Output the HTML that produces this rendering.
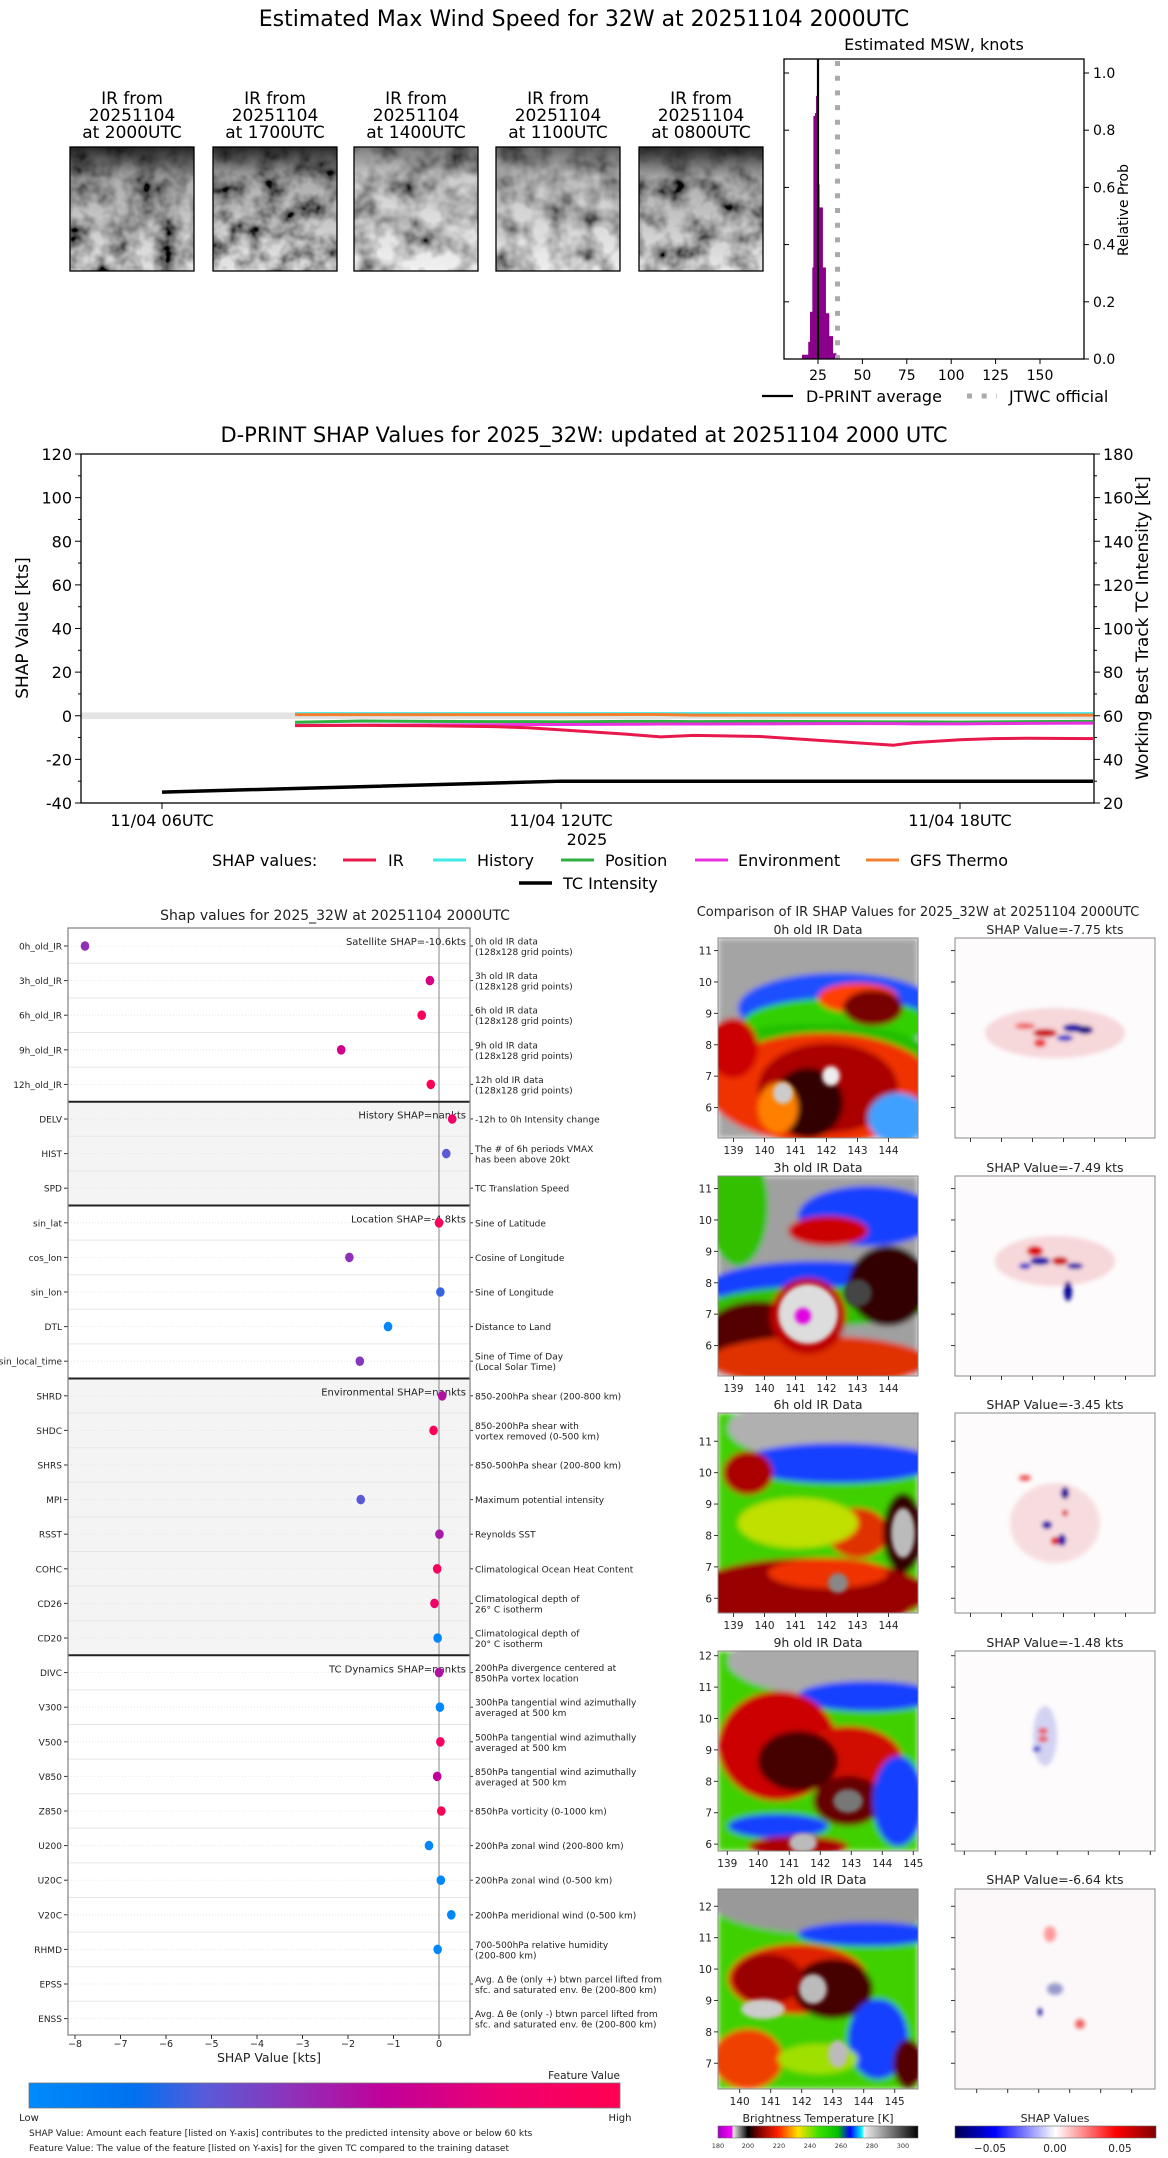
<!DOCTYPE html>
<html><head><meta charset="utf-8">
<style>
html,body{margin:0;padding:0;background:#fff;}
svg{display:block;font-family:"DejaVu Sans","Liberation Sans",sans-serif;}
</style></head>
<body>
<svg id="root" width="1168" height="2158" viewBox="0 0 1168 2158" xmlns="http://www.w3.org/2000/svg">
<defs>
  <filter id="cloud1" x="0" y="0" width="100%" height="100%"><feTurbulence type="fractalNoise" baseFrequency="0.045" numOctaves="3" seed="3"/><feColorMatrix type="matrix" values="2.0 0 0 0 -0.45  2.0 0 0 0 -0.45  2.0 0 0 0 -0.45  0 0 0 0 1"/></filter>
  <filter id="cloud2" x="0" y="0" width="100%" height="100%"><feTurbulence type="fractalNoise" baseFrequency="0.05" numOctaves="3" seed="11"/><feColorMatrix type="matrix" values="2.0 0 0 0 -0.42  2.0 0 0 0 -0.42  2.0 0 0 0 -0.42  0 0 0 0 1"/></filter>
  <filter id="cloud3" x="0" y="0" width="100%" height="100%"><feTurbulence type="fractalNoise" baseFrequency="0.04" numOctaves="3" seed="27"/><feColorMatrix type="matrix" values="1.9 0 0 0 -0.3  1.9 0 0 0 -0.3  1.9 0 0 0 -0.3  0 0 0 0 1"/></filter>
  <filter id="cloud4" x="0" y="0" width="100%" height="100%"><feTurbulence type="fractalNoise" baseFrequency="0.04" numOctaves="3" seed="41"/><feColorMatrix type="matrix" values="1.9 0 0 0 -0.28  1.9 0 0 0 -0.28  1.9 0 0 0 -0.28  0 0 0 0 1"/></filter>
  <filter id="cloud5" x="0" y="0" width="100%" height="100%"><feTurbulence type="fractalNoise" baseFrequency="0.045" numOctaves="3" seed="57"/><feColorMatrix type="matrix" values="2.0 0 0 0 -0.35  2.0 0 0 0 -0.35  2.0 0 0 0 -0.35  0 0 0 0 1"/></filter>
  <filter id="blur" x="-10%" y="-10%" width="120%" height="120%"><feGaussianBlur stdDeviation="3"/></filter>
  <filter id="blur2" x="-20%" y="-20%" width="140%" height="140%"><feGaussianBlur stdDeviation="2"/></filter>
  <linearGradient id="topdark" x1="0" y1="0" x2="0" y2="1"><stop offset="0" stop-color="#111" stop-opacity="0.9"/><stop offset="0.25" stop-color="#111" stop-opacity="0.35"/><stop offset="1" stop-color="#111" stop-opacity="0.1"/></linearGradient>
  <linearGradient id="featcb" x1="0" y1="0" x2="1" y2="0"><stop offset="0" stop-color="#008bfb"/><stop offset="0.18" stop-color="#0070f0"/><stop offset="0.3" stop-color="#5a5ad8"/><stop offset="0.45" stop-color="#9030b8"/><stop offset="0.6" stop-color="#c0009a"/><stop offset="0.8" stop-color="#ee0070"/><stop offset="1" stop-color="#ff0052"/></linearGradient>
  <linearGradient id="btcb" x1="0" y1="0" x2="1" y2="0"><stop offset="0" stop-color="#a000c0"/><stop offset="0.07" stop-color="#ff00ff"/><stop offset="0.075" stop-color="#eee"/><stop offset="0.15" stop-color="#000"/><stop offset="0.2" stop-color="#700"/><stop offset="0.3" stop-color="#ff2000"/><stop offset="0.4" stop-color="#ffe000"/><stop offset="0.5" stop-color="#40e000"/><stop offset="0.6" stop-color="#00c000"/><stop offset="0.66" stop-color="#0000ff"/><stop offset="0.72" stop-color="#00ffff"/><stop offset="0.73" stop-color="#f0f0f0"/><stop offset="1" stop-color="#000"/></linearGradient>
  <linearGradient id="shapcb" x1="0" y1="0" x2="1" y2="0"><stop offset="0" stop-color="#000050"/><stop offset="0.2" stop-color="#0000ff"/><stop offset="0.5" stop-color="#ffffff"/><stop offset="0.8" stop-color="#ff0000"/><stop offset="1" stop-color="#800000"/></linearGradient>
  <clipPath id="pclip"><rect x="0" y="0" width="200" height="200"/></clipPath>
</defs>

<text x="584" y="26" font-size="22" text-anchor="middle" fill="#000">Estimated Max Wind Speed for 32W at 20251104 2000UTC</text>

<g font-size="17" text-anchor="middle" fill="#000">
  <g><text x="132" y="104">IR from</text><text x="132" y="121">20251104</text><text x="132" y="138">at 2000UTC</text>
    <rect x="70" y="147" width="124" height="124" filter="url(#cloud1)"/><rect x="70" y="147" width="124" height="124" fill="url(#topdark)"/><rect x="70" y="147" width="124" height="124" fill="none" stroke="#000" stroke-width="1.3"/></g>
  <g><text x="275" y="104">IR from</text><text x="275" y="121">20251104</text><text x="275" y="138">at 1700UTC</text>
    <rect x="213" y="147" width="124" height="124" filter="url(#cloud2)"/><rect x="213" y="147" width="124" height="124" fill="url(#topdark)"/><rect x="213" y="147" width="124" height="124" fill="none" stroke="#000" stroke-width="1.3"/></g>
  <g><text x="416" y="104">IR from</text><text x="416" y="121">20251104</text><text x="416" y="138">at 1400UTC</text>
    <rect x="354" y="147" width="124" height="124" filter="url(#cloud3)"/><rect x="354" y="147" width="124" height="124" fill="url(#topdark)" opacity="0.6"/><rect x="354" y="147" width="124" height="124" fill="none" stroke="#000" stroke-width="1.3"/></g>
  <g><text x="558" y="104">IR from</text><text x="558" y="121">20251104</text><text x="558" y="138">at 1100UTC</text>
    <rect x="496" y="147" width="124" height="124" filter="url(#cloud4)"/><rect x="496" y="147" width="124" height="124" fill="url(#topdark)" opacity="0.7"/><rect x="496" y="147" width="124" height="124" fill="none" stroke="#000" stroke-width="1.3"/></g>
  <g><text x="701" y="104">IR from</text><text x="701" y="121">20251104</text><text x="701" y="138">at 0800UTC</text>
    <rect x="639" y="147" width="124" height="124" filter="url(#cloud5)"/><rect x="639" y="147" width="124" height="124" fill="url(#topdark)"/><rect x="639" y="147" width="124" height="124" fill="none" stroke="#000" stroke-width="1.3"/></g>
</g>

<g id="hist"></g>
<g id="timeline"></g>
<g id="dots"></g>

<g>
<text x="918" y="916" font-size="13" text-anchor="middle" fill="#222">Comparison of IR SHAP Values for 2025_32W at 20251104 2000UTC</text>

<g transform="translate(718,938)">
 <g clip-path="url(#pclip)"><g filter="url(#blur)">
  <rect x="0" y="0" width="200" height="200" fill="#a4a4a4"/>
  <ellipse cx="120" cy="70" rx="100" ry="35" fill="#1a50ff"/>
  <ellipse cx="120" cy="85" rx="95" ry="25" fill="#30d000"/>
  <ellipse cx="140" cy="60" rx="40" ry="15" fill="#ff4000"/>
  <ellipse cx="155" cy="70" rx="30" ry="18" fill="#700"/>
  <ellipse cx="100" cy="115" rx="110" ry="30" fill="#20c000"/>
  <ellipse cx="105" cy="150" rx="115" ry="55" fill="#f03000"/>
  <ellipse cx="110" cy="150" rx="70" ry="45" fill="#a00"/>
  <ellipse cx="90" cy="165" rx="35" ry="35" fill="#300"/>
  <ellipse cx="15" cy="110" rx="25" ry="30" fill="#c00"/>
  <ellipse cx="180" cy="180" rx="30" ry="25" fill="#40a0ff"/>
  <ellipse cx="60" cy="170" rx="20" ry="25" fill="#ff8000"/>
 </g>
 <ellipse cx="65" cy="155" rx="10" ry="11" fill="#ccc" filter="url(#blur2)"/>
 <ellipse cx="113" cy="138" rx="9" ry="10" fill="#eee" filter="url(#blur2)"/>
 </g>
 <rect x="0" y="0" width="200" height="200" fill="none" stroke="#888"/>
</g>
<g transform="translate(718,1176)">
 <g clip-path="url(#pclip)"><g filter="url(#blur)">
  <rect x="0" y="0" width="200" height="200" fill="#a0a0a0"/>
  <ellipse cx="20" cy="30" rx="30" ry="60" fill="#30c000"/>
  <ellipse cx="150" cy="40" rx="70" ry="30" fill="#1840ff"/>
  <ellipse cx="110" cy="55" rx="40" ry="15" fill="#c00"/>
  <ellipse cx="100" cy="110" rx="110" ry="25" fill="#1840ff"/>
  <ellipse cx="100" cy="130" rx="110" ry="20" fill="#30c000"/>
  <ellipse cx="40" cy="160" rx="55" ry="35" fill="#500"/>
  <ellipse cx="100" cy="185" rx="110" ry="25" fill="#e03000"/>
  <ellipse cx="170" cy="110" rx="40" ry="40" fill="#300"/>
  <ellipse cx="90" cy="140" rx="38" ry="38" fill="#b00"/>
 </g>
 <circle cx="90" cy="138" r="30" fill="#ddd" filter="url(#blur2)"/>
 <circle cx="85" cy="140" r="8" fill="#e000e0" filter="url(#blur2)"/>
 <ellipse cx="140" cy="117" rx="14" ry="14" fill="#444" filter="url(#blur2)"/>
 </g>
 <rect x="0" y="0" width="200" height="200" fill="none" stroke="#888"/>
</g>
<g transform="translate(718,1413)">
 <g clip-path="url(#pclip)"><g filter="url(#blur)">
  <rect x="0" y="0" width="200" height="200" fill="#40d000"/>
  <ellipse cx="120" cy="15" rx="110" ry="35" fill="#b0b0b0"/>
  <ellipse cx="120" cy="50" rx="100" ry="20" fill="#1840ff"/>
  <ellipse cx="30" cy="60" rx="25" ry="22" fill="#a00"/>
  <ellipse cx="85" cy="100" rx="15" ry="15" fill="#d00"/>
  <ellipse cx="140" cy="120" rx="30" ry="25" fill="#e03000"/>
  <ellipse cx="80" cy="110" rx="60" ry="25" fill="#c0e000"/>
  <ellipse cx="90" cy="180" rx="120" ry="35" fill="#900"/>
  <ellipse cx="110" cy="160" rx="60" ry="15" fill="#f03000"/>
  <ellipse cx="185" cy="120" rx="20" ry="40" fill="#300"/>
 </g>
 <ellipse cx="185" cy="120" rx="12" ry="25" fill="#bbb" filter="url(#blur2)"/>
 <ellipse cx="120" cy="170" rx="10" ry="10" fill="#888" filter="url(#blur2)"/>
 </g>
 <rect x="0" y="0" width="200" height="200" fill="none" stroke="#888"/>
</g>
<g transform="translate(718,1651)">
 <g clip-path="url(#pclip)"><g filter="url(#blur)">
  <rect x="0" y="0" width="200" height="200" fill="#40d000"/>
  <ellipse cx="120" cy="10" rx="110" ry="35" fill="#aaa"/>
  <ellipse cx="150" cy="45" rx="70" ry="15" fill="#1840ff"/>
  <ellipse cx="60" cy="95" rx="60" ry="55" fill="#c00"/>
  <ellipse cx="130" cy="110" rx="55" ry="35" fill="#d01000"/>
  <ellipse cx="80" cy="110" rx="40" ry="30" fill="#400"/>
  <ellipse cx="130" cy="150" rx="35" ry="25" fill="#600"/>
  <ellipse cx="60" cy="175" rx="50" ry="12" fill="#1840ff"/>
  <ellipse cx="180" cy="150" rx="25" ry="45" fill="#1840ff"/>
  <ellipse cx="80" cy="195" rx="50" ry="10" fill="#a00"/>
 </g>
 <ellipse cx="130" cy="150" rx="15" ry="12" fill="#777" filter="url(#blur2)"/>
 <ellipse cx="85" cy="192" rx="14" ry="10" fill="#bbb" filter="url(#blur2)"/>
 </g>
 <rect x="0" y="0" width="200" height="200" fill="none" stroke="#888"/>
</g>
<g transform="translate(718,1889)">
 <g clip-path="url(#pclip)"><g filter="url(#blur)">
  <rect x="0" y="0" width="200" height="200" fill="#40d000"/>
  <ellipse cx="110" cy="10" rx="120" ry="35" fill="#999"/>
  <ellipse cx="150" cy="45" rx="70" ry="12" fill="#1840ff"/>
  <ellipse cx="80" cy="90" rx="70" ry="35" fill="#e02000"/>
  <ellipse cx="115" cy="100" rx="40" ry="30" fill="#400"/>
  <ellipse cx="50" cy="90" rx="35" ry="25" fill="#900"/>
  <ellipse cx="30" cy="170" rx="35" ry="30" fill="#f04000"/>
  <ellipse cx="160" cy="150" rx="30" ry="40" fill="#1840ff"/>
  <ellipse cx="190" cy="175" rx="15" ry="25" fill="#500"/>
  <ellipse cx="100" cy="170" rx="40" ry="15" fill="#a0e000"/>
 </g>
 <ellipse cx="95" cy="100" rx="14" ry="15" fill="#bbb" filter="url(#blur2)"/>
 <ellipse cx="45" cy="120" rx="22" ry="10" fill="#ccc" filter="url(#blur2)"/>
 <ellipse cx="120" cy="165" rx="10" ry="14" fill="#bbb" filter="url(#blur2)"/>
 </g>
 <rect x="0" y="0" width="200" height="200" fill="none" stroke="#888"/>
</g>

<g transform="translate(955,938)">
 <rect width="200" height="200" fill="#fdfbfc"/>
 <g filter="url(#blur2)"><ellipse cx="100" cy="95" rx="70" ry="25" fill="#f4c8cc" opacity="0.7"/><ellipse cx="90" cy="95" rx="12" ry="4" fill="#c00"/><ellipse cx="118" cy="90" rx="10" ry="4" fill="#00a"/><ellipse cx="130" cy="92" rx="8" ry="4" fill="#008"/><ellipse cx="85" cy="105" rx="6" ry="4" fill="#e33"/><ellipse cx="110" cy="100" rx="8" ry="3" fill="#33c"/><ellipse cx="70" cy="88" rx="10" ry="3" fill="#e66"/></g>
 <rect width="200" height="200" fill="none" stroke="#888"/>
</g>
<g transform="translate(955,1176)">
 <rect width="200" height="200" fill="#fdfbfc"/>
 <g filter="url(#blur2)"><ellipse cx="100" cy="85" rx="60" ry="25" fill="#f4c8cc" opacity="0.7"/><ellipse cx="85" cy="85" rx="10" ry="4" fill="#00a"/><ellipse cx="80" cy="75" rx="8" ry="5" fill="#d00"/><ellipse cx="105" cy="85" rx="8" ry="4" fill="#c00"/><ellipse cx="120" cy="90" rx="8" ry="3" fill="#00a"/><ellipse cx="113" cy="115" rx="4" ry="10" fill="#009"/><ellipse cx="70" cy="90" rx="6" ry="3" fill="#33c"/></g>
 <rect width="200" height="200" fill="none" stroke="#888"/>
</g>
<g transform="translate(955,1413)">
 <rect width="200" height="200" fill="#fdfbfc"/>
 <g filter="url(#blur2)"><ellipse cx="100" cy="110" rx="45" ry="40" fill="#f4c8cc" opacity="0.6"/><ellipse cx="110" cy="80" rx="4" ry="6" fill="#009"/><ellipse cx="92" cy="112" rx="5" ry="4" fill="#00a"/><ellipse cx="107" cy="127" rx="4" ry="6" fill="#00a"/><ellipse cx="100" cy="128" rx="4" ry="4" fill="#d00"/><ellipse cx="110" cy="100" rx="3" ry="3" fill="#d00"/><ellipse cx="70" cy="65" rx="6" ry="3" fill="#e55"/></g>
 <rect width="200" height="200" fill="none" stroke="#888"/>
</g>
<g transform="translate(955,1651)">
 <rect width="200" height="200" fill="#fdfbfc"/>
 <g filter="url(#blur2)"><ellipse cx="90" cy="85" rx="12" ry="30" fill="#c8c8f0" opacity="0.8"/><ellipse cx="88" cy="80" rx="5" ry="3" fill="#e44"/><ellipse cx="88" cy="88" rx="5" ry="3" fill="#e44"/><ellipse cx="82" cy="98" rx="4" ry="3" fill="#44c"/></g>
 <rect width="200" height="200" fill="none" stroke="#888"/>
</g>
<g transform="translate(955,1889)">
 <rect width="200" height="200" fill="#fcf8fa"/>
 <g filter="url(#blur2)"><ellipse cx="100" cy="100" rx="8" ry="6" fill="#99c"/><ellipse cx="85" cy="123" rx="2" ry="4" fill="#008"/><ellipse cx="125" cy="135" rx="5" ry="5" fill="#e66"/><ellipse cx="95" cy="45" rx="6" ry="8" fill="#f99"/></g>
 <rect width="200" height="200" fill="none" stroke="#888"/>
</g>
<g font-size="12.5" fill="#222" text-anchor="middle">
 <text x="818" y="934">0h old IR Data</text><text x="1055" y="934">SHAP Value=-7.75 kts</text>
 <text x="818" y="1172">3h old IR Data</text><text x="1055" y="1172">SHAP Value=-7.49 kts</text>
 <text x="818" y="1409">6h old IR Data</text><text x="1055" y="1409">SHAP Value=-3.45 kts</text>
 <text x="818" y="1647">9h old IR Data</text><text x="1055" y="1647">SHAP Value=-1.48 kts</text>
 <text x="818" y="1884">12h old IR Data</text><text x="1055" y="1884">SHAP Value=-6.64 kts</text>
</g>
<g id="paneltix" font-size="10.5" fill="#222"></g>

<g>
 <text x="818" y="2122" font-size="11" text-anchor="middle" fill="#222">Brightness Temperature [K]</text>
 <rect x="718" y="2126" width="200" height="12" fill="url(#btcb)" stroke="#666" stroke-width="0.6"/>
 <g font-size="6.5" fill="#333" text-anchor="middle"><text x="718" y="2148">180</text><text x="748" y="2148">200</text><text x="779" y="2148">220</text><text x="810" y="2148">240</text><text x="841" y="2148">260</text><text x="872" y="2148">280</text><text x="903" y="2148">300</text></g>
</g>
<g>
 <text x="1055" y="2122" font-size="11" text-anchor="middle" fill="#222">SHAP Values</text>
 <rect x="955" y="2126" width="201" height="12" fill="url(#shapcb)" stroke="#666" stroke-width="0.6"/>
 <g font-size="10.5" fill="#222" text-anchor="middle"><text x="990" y="2152">−0.05</text><text x="1055" y="2152">0.00</text><text x="1120" y="2152">0.05</text></g>
</g>
</g>
</svg>

<script>
const NS='http://www.w3.org/2000/svg';
function mk(tag,attrs,parent,txt){const e=document.createElementNS(NS,tag);for(const k in attrs)e.setAttribute(k,attrs[k]);if(txt!==undefined)e.textContent=txt;parent.appendChild(e);return e;}

/* ===== Histogram data ===== */
const histEdges=[16,19.5,20.5,21.8,22.4,23.3,23.9,24.6,25.7,27.6,29.3,31.2,33.3,35.2];
const histProb=[0.015,0.06,0.165,0.32,0.85,0.86,0.92,0.61,0.53,0.32,0.16,0.08,0.02];
const histMean=[25];
const jtwcOfficial=[36];
const histXTicks=[25,50,75,100,125,150];
const histYTicks=[0,0.2,0.4,0.6,0.8,1.0];

/* ===== Timeline data ===== */
const tlHours=[8,9,10,11,11.5,12,13,13.5,14,15,16,17,17.3,18,18.5,19,20];
const tlIR=[-4.5,-4.4,-4.6,-5,-5.5,-6.5,-8.5,-9.7,-9,-9.5,-11.5,-13.5,-12.3,-11,-10.5,-10.3,-10.5];
const tlHistory=[1,1,1,1,1,1,1,1,1,1,1,1,1,1,1,1,1];
const tlPosition=[-3,-2.4,-2.6,-2.7,-2.7,-2.8,-2.6,-2.6,-2.7,-2.6,-2.7,-2.8,-2.8,-2.9,-2.8,-2.7,-2.6];
const tlEnvironment=[-4.4,-4.3,-4.2,-4.1,-4.0,-4.0,-3.9,-3.8,-3.8,-3.7,-3.6,-3.6,-3.7,-3.7,-3.6,-3.5,-3.4];
const tlGFS=[0.5,0.5,0.5,0.5,0.5,0.5,0.6,0.6,0.3,0.3,0.3,0.3,0.3,0.3,0.3,0.3,0.3];
const tcHours=[6,12,20];
const tcIntensity=[25,30,30];
const tlLeftTicks=[-40,-20,0,20,40,60,80,100,120];
const tlRightTicks=[20,40,60,80,100,120,140,160,180];
const tlXTickHours=[6,12,18];
const tlXTickLabels=['11/04 06UTC','11/04 12UTC','11/04 18UTC'];

/* ===== Dot plot data ===== */
const featNames=['0h_old_IR','3h_old_IR','6h_old_IR','9h_old_IR','12h_old_IR','DELV','HIST','SPD','sin_lat','cos_lon','sin_lon','DTL','sin_local_time','SHRD','SHDC','SHRS','MPI','RSST','COHC','CD26','CD20','DIVC','V300','V500','V850','Z850','U200','U20C','V20C','RHMD','EPSS','ENSS'];
const featShap=[-7.78,-0.2,-0.38,-2.15,-0.18,0.29,0.16,null,0.0,-1.97,0.03,-1.12,-1.74,0.07,-0.12,null,-1.72,0.01,-0.04,-0.1,-0.03,0.0,0.02,0.03,-0.04,0.05,-0.22,0.04,0.27,-0.03,null,null];
const featValue=[0.45,0.7,0.95,0.68,0.97,0.85,0.3,null,0.95,0.45,0.25,0.02,0.42,0.55,0.95,null,0.3,0.52,0.92,0.85,0.02,0.55,0.02,0.9,0.6,0.97,0.02,0.02,0.02,0.02,null,null];
const featDesc=[['0h old IR data','(128x128 grid points)'],['3h old IR data','(128x128 grid points)'],['6h old IR data','(128x128 grid points)'],['9h old IR data','(128x128 grid points)'],['12h old IR data','(128x128 grid points)'],['-12h to 0h Intensity change'],['The # of 6h periods VMAX','has been above 20kt'],['TC Translation Speed'],['Sine of Latitude'],['Cosine of Longitude'],['Sine of Longitude'],['Distance to Land'],['Sine of Time of Day','(Local Solar Time)'],['850-200hPa shear (200-800 km)'],['850-200hPa shear with','vortex removed (0-500 km)'],['850-500hPa shear (200-800 km)'],['Maximum potential intensity'],['Reynolds SST'],['Climatological Ocean Heat Content'],['Climatological depth of','26° C isotherm'],['Climatological depth of','20° C isotherm'],['200hPa divergence centered at','850hPa vortex location'],['300hPa tangential wind azimuthally','averaged at 500 km'],['500hPa tangential wind azimuthally','averaged at 500 km'],['850hPa tangential wind azimuthally','averaged at 500 km'],['850hPa vorticity (0-1000 km)'],['200hPa zonal wind (200-800 km)'],['200hPa zonal wind (0-500 km)'],['200hPa meridional wind (0-500 km)'],['700-500hPa relative humidity','(200-800 km)'],['Avg. Δ θe (only +) btwn parcel lifted from','sfc. and saturated env. θe (200-800 km)'],['Avg. Δ θe (only -) btwn parcel lifted from','sfc. and saturated env. θe (200-800 km)']];
const sectionStart=[0,5,8,13,21];
const sectionLabels=['Satellite SHAP=-10.6kts','History SHAP=nankts','Location SHAP=-4.8kts','Environmental SHAP=nankts','TC Dynamics SHAP=nankts'];
const sectionShaded=[false,true,false,true,false];
const dotXTicks=[-8,-7,-6,-5,-4,-3,-2,-1,0];

(function(){
const g=document.getElementById('hist');
const L=784,R=1084,T=59,B=359;
const xs=k=>818+(k-25)*1.776, ys=p=>B-p*286;
mk('text',{x:934,y:50,'font-size':16,'text-anchor':'middle'},g,'Estimated MSW, knots');
for(let i=0;i<histProb.length;i++){
  const b=mk('rect',{x:xs(histEdges[i]),y:ys(histProb[i]),width:xs(histEdges[i+1])-xs(histEdges[i])+0.3,height:B-ys(histProb[i]),fill:'#8b008b'},g);
  
  
}
const jl=mk('line',{x1:xs(jtwcOfficial[0]),x2:xs(jtwcOfficial[0]),y1:T+2,y2:B,stroke:'#aaa','stroke-width':5,'stroke-dasharray':'5 9.7'},g);


const ml=mk('line',{x1:xs(histMean[0]),x2:xs(histMean[0]),y1:T,y2:B,stroke:'#000','stroke-width':2.2},g);


mk('rect',{x:L,y:T,width:R-L,height:B-T,fill:'none',stroke:'#000','stroke-width':1.3},g);
histXTicks.forEach(t=>{mk('line',{x1:xs(t),x2:xs(t),y1:B,y2:B+5,stroke:'#000'},g);mk('text',{x:xs(t),y:B+21,'font-size':14,'text-anchor':'middle'},g,String(t));});
histYTicks.forEach(t=>{mk('line',{x1:L,x2:L+5,y1:ys(t),y2:ys(t),stroke:'#000'},g);mk('line',{x1:R,x2:R+5,y1:ys(t),y2:ys(t),stroke:'#000'},g);mk('text',{x:R+9,y:ys(t)+5,'font-size':14},g,t.toFixed(1));});
mk('text',{x:1128,y:210,'font-size':14,'text-anchor':'middle',transform:'rotate(-90 1128 210)'},g,'Relative Prob');
const lg=mk('g',{},g);


mk('line',{x1:762,x2:793,y1:396,y2:396,stroke:'#000','stroke-width':2.2},lg);
mk('text',{x:806,y:402,'font-size':16},lg,'D-PRINT average');
mk('line',{x1:967,x2:997,y1:396,y2:396,stroke:'#aaa','stroke-width':5,'stroke-dasharray':'5 9.7'},lg);
mk('text',{x:1009,y:402,'font-size':16},lg,'JTWC official');
})();

(function(){
const g=document.getElementById('timeline');
const L=81,R=1094,T=454,B=803;
const xh=h=>162+(h-6)*66.5, yL=v=>B-(v+40)*349/160, yR=k=>B-(k-20)*349/160;
mk('text',{x:584,y:442,'font-size':21,'text-anchor':'middle'},g,'D-PRINT SHAP Values for 2025_32W: updated at 20251104 2000 UTC');
mk('rect',{x:L,y:yL(1.5),width:R-L,height:yL(-1.5)-yL(1.5),fill:'#e3e3e3'},g);
function line(hs,vs,col,w,name,yf){
  const p=mk('polyline',{points:hs.map((h,i)=>xh(h)+','+yf(vs[i])).join(' '),fill:'none',stroke:col,'stroke-width':w,'stroke-linejoin':'round'},g);
  
  
}
line(tlHours,tlHistory,'#40e8e8',3,'history-line',yL);
line(tlHours,tlGFS,'#f08030',3,'gfs-thermo-line',yL);
line(tlHours,tlPosition,'#30b040',3,'position-line',yL);
line(tlHours,tlEnvironment,'#e830e0',3,'environment-line',yL);
line(tlHours,tlIR,'#e8184a',3,'ir-line',yL);
line(tcHours,tcIntensity,'#000',3.5,'tc-intensity-line',yR);
mk('rect',{x:L,y:T,width:R-L,height:B-T,fill:'none',stroke:'#000','stroke-width':1.3},g);
tlLeftTicks.forEach(t=>{mk('line',{x1:L-6,x2:L,y1:yL(t),y2:yL(t),stroke:'#000'},g);mk('text',{x:L-9,y:yL(t)+6,'font-size':16,'text-anchor':'end'},g,String(t));});
for(let t=-30;t<120;t+=20)mk('line',{x1:L-3,x2:L,y1:yL(t),y2:yL(t),stroke:'#000'},g);
tlRightTicks.forEach(t=>{mk('line',{x1:R,x2:R+6,y1:yR(t),y2:yR(t),stroke:'#000'},g);mk('text',{x:R+9,y:yR(t)+6,'font-size':16},g,String(t));});
for(let t=30;t<180;t+=20)mk('line',{x1:R,x2:R+3,y1:yR(t),y2:yR(t),stroke:'#000'},g);
tlXTickHours.forEach((h,i)=>{mk('line',{x1:xh(h),x2:xh(h),y1:B,y2:B+6,stroke:'#000'},g);mk('text',{x:xh(h),y:826,'font-size':16,'text-anchor':'middle'},g,tlXTickLabels[i]);});
mk('text',{x:587,y:845,'font-size':16,'text-anchor':'middle'},g,'2025');
mk('text',{x:28,y:628,'font-size':17,'text-anchor':'middle',transform:'rotate(-90 28 628)'},g,'SHAP Value [kts]');
mk('text',{x:1148,y:628,'font-size':17,'text-anchor':'middle',transform:'rotate(-90 1148 628)'},g,'Working Best Track TC Intensity [kt]');
const lg=mk('g',{'font-size':16},g);


mk('text',{x:212,y:866},lg,'SHAP values:');
[[343,'#e8184a','IR',388],[433,'#40e8e8','History',477],[561,'#30b040','Position',605],[695,'#e830e0','Environment',738],[866,'#f08030','GFS Thermo',910]].forEach(a=>{mk('line',{x1:a[0],x2:a[0]+33,y1:860,y2:860,stroke:a[1],'stroke-width':3},lg);mk('text',{x:a[3],y:866},lg,a[2]);});
mk('line',{x1:519,x2:552,y1:883,y2:883,stroke:'#000','stroke-width':3.5},lg);
mk('text',{x:563,y:889},lg,'TC Intensity');
})();

(function(){
const g=document.getElementById('dots');
const L=68,R=470,T=928,B=2035;
const xv=v=>439+v*45.5, ry=i=>946+i*34.6, bnd=i=>946+(i-0.5)*34.6;
mk('text',{x:335,y:920,'font-size':14,'text-anchor':'middle',fill:'#222'},g,'Shap values for 2025_32W at 20251104 2000UTC');
const n=featNames.length;
sectionStart.forEach((s,k)=>{
  const e=k+1<sectionStart.length?sectionStart[k+1]:n;
  const top=s===0?T:bnd(s), bot=e===n?B:bnd(e);
  if(sectionShaded[k]){mk('rect',{x:L,y:top,width:R-L,height:bot-top,fill:'#f4f4f4'},g);}
});
for(let i=1;i<n;i++){mk('line',{x1:L,x2:R,y1:bnd(i),y2:bnd(i),stroke:'#e6e6e6','stroke-width':1},g);}
for(let i=0;i<n;i++){mk('line',{x1:L,x2:R,y1:ry(i),y2:ry(i),stroke:'#e4e4e4','stroke-width':0.8,'stroke-dasharray':'1 2'},g);}
mk('line',{x1:xv(0),x2:xv(0),y1:T,y2:B,stroke:'#999','stroke-width':1.2},g);
sectionStart.forEach((s,k)=>{
  if(s>0)mk('line',{x1:L,x2:R,y1:bnd(s),y2:bnd(s),stroke:'#222','stroke-width':2},g);
  const t=mk('text',{x:466,y:(s===0?T:bnd(s))+17,'font-size':10,'text-anchor':'end',fill:'#222'},g,sectionLabels[k]);
  
  
});
function col(f){const stops=[[0,[0,139,251]],[0.18,[0,112,240]],[0.3,[90,90,216]],[0.45,[144,48,184]],[0.6,[192,0,154]],[0.8,[238,0,112]],[1,[255,0,82]]];for(let i=1;i<stops.length;i++){if(f<=stops[i][0]){const a=stops[i-1],b=stops[i],t=(f-a[0])/(b[0]-a[0]);return 'rgb('+a[1].map((c,j)=>Math.round(c+(b[1][j]-c)*t)).join(',')+')';}}return 'rgb(255,0,82)';}
for(let i=0;i<n;i++){
  mk('line',{x1:L-4,x2:L,y1:ry(i),y2:ry(i),stroke:'#333'},g);
  mk('text',{x:L-6,y:ry(i)+3.5,'font-size':9,'text-anchor':'end',fill:'#222'},g,featNames[i]);
  mk('line',{x1:R,x2:R+3,y1:ry(i),y2:ry(i),stroke:'#333'},g);
  const d=featDesc[i];
  if(d.length===1)mk('text',{x:475,y:ry(i)+3.5,'font-size':9,fill:'#222'},g,d[0]);
  else{mk('text',{x:475,y:ry(i)-1.5,'font-size':9,fill:'#222'},g,d[0]);mk('text',{x:475,y:ry(i)+9,'font-size':9,fill:'#222'},g,d[1]);}
  if(featShap[i]!==null){
    const c=mk('ellipse',{cx:xv(featShap[i]),cy:ry(i),rx:4.3,ry:4.8,fill:col(featValue[i])},g);
    
    
  }
}
mk('rect',{x:L,y:T,width:R-L,height:B-T,fill:'none',stroke:'#888','stroke-width':1.3},g);
dotXTicks.forEach(t=>{mk('line',{x1:xv(t),x2:xv(t),y1:B,y2:B+4,stroke:'#333'},g);mk('text',{x:xv(t),y:2047,'font-size':9.5,'text-anchor':'middle',fill:'#222'},g,t<0?'−'+Math.abs(t):String(t));});
mk('text',{x:269,y:2062,'font-size':12.5,'text-anchor':'middle',fill:'#222'},g,'SHAP Value [kts]');
const cb=mk('g',{},g);


mk('text',{x:620,y:2079,'font-size':10.5,'text-anchor':'end',fill:'#222'},cb,'Feature Value');
mk('rect',{x:29,y:2083,width:591,height:25,fill:'url(#featcb)',stroke:'#777','stroke-width':0.8},cb);
mk('text',{x:29,y:2121,'font-size':10,'text-anchor':'middle',fill:'#222'},cb,'Low');
mk('text',{x:620,y:2121,'font-size':10,'text-anchor':'middle',fill:'#222'},cb,'High');
mk('text',{x:29,y:2136,'font-size':9,fill:'#222'},g,'SHAP Value: Amount each feature [listed on Y-axis] contributes to the predicted intensity above or below 60 kts');
mk('text',{x:29,y:2151,'font-size':9,fill:'#222'},g,'Feature Value: The value of the feature [listed on Y-axis] for the given TC compared to the training dataset');
})();

(function(){
const g=document.getElementById('paneltix');
const tops=[938,1176,1413,1651,1889];
const latTicks=[[11,10,9,8,7,6],[11,10,9,8,7,6],[11,10,9,8,7,6],[12,11,10,9,8,7,6],[12,11,10,9,8,7]];
const latTop=[11.4,11.4,11.9,12.15,12.55];
const lonTicks=[[139,140,141,142,143,144],[139,140,141,142,143,144],[139,140,141,142,143,144],[139,140,141,142,143,144,145],[140,141,142,143,144,145]];
const lonLeft=[138.5,138.5,138.5,138.7,139.3];
tops.forEach((t,p)=>{
  latTicks[p].forEach(v=>{const y=t+(latTop[p]-v)*31.4;mk('line',{x1:714,x2:718,y1:y,y2:y,stroke:'#333'},g);mk('text',{x:712,y:y+4,'text-anchor':'end'},g,String(v));mk('line',{x1:951,x2:955,y1:y,y2:y,stroke:'#333'},g);});
  lonTicks[p].forEach(v=>{const x=718+(v-lonLeft[p])*31;mk('line',{x1:x,x2:x,y1:t+200,y2:t+204,stroke:'#333'},g);mk('text',{x:x,y:t+216,'text-anchor':'middle'},g,String(v));mk('line',{x1:x+237,x2:x+237,y1:t+200,y2:t+204,stroke:'#333'},g);});
});
})();
</script>
</body></html>
